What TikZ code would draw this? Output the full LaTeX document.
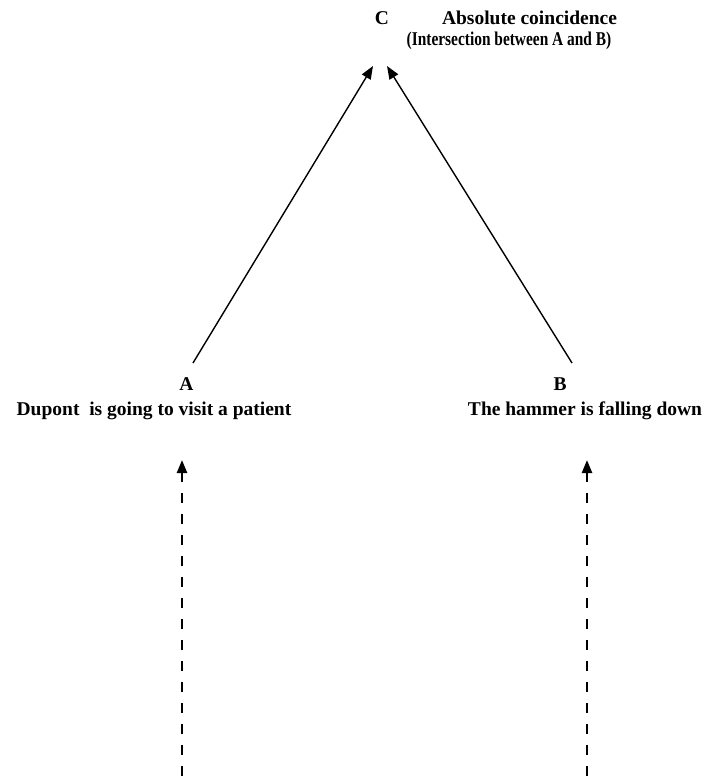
\documentclass[tikz,border=0pt]{standalone}
\usepackage{fontspec}
\setmainfont{Liberation Serif}
\usetikzlibrary{arrows.meta}
\begin{document}
\begin{tikzpicture}[x=1pt,y=-1pt,
  lbl/.style={inner sep=0pt,font=\fontsize{19.5}{22}\selectfont\bfseries,anchor=base},
  solidarrow/.style={line width=1.4pt,-{Triangle[length=13pt,width=10pt]}},
  dasharrow/.style={line width=2.4pt,dash pattern=on 10pt off 11pt,-{Triangle[length=13pt,width=10pt]}}]
\useasboundingbox (0,0) rectangle (705,778);
% top labels
\node[lbl] (C) at (382,25) {C};
\node[lbl] (Ctitle) at (529.5,25) {Absolute coincidence};
\node[lbl] (Csub) at (509,46) {\scalebox{0.79}[1]{(Intersection between A and B)}};
% bottom labels
\node[lbl] (A) at (186.5,390) {A};
\node[lbl] (Atext) at (154,415) {Dupont\ \ is going to visit a patient};
\node[lbl] (B) at (560,390) {B};
\node[lbl] (Btext) at (585,415) {The hammer is falling down};
% connector end points
\coordinate (aout) at (193,363);
\coordinate (bout) at (572,363);
\coordinate (cinl) at (373,66);
\coordinate (cinr) at (387,66);
\coordinate (ain) at (182,460);
\coordinate (bin) at (587,460);
\coordinate (asrc) at (182,776);
\coordinate (bsrc) at (587,776);
\draw[solidarrow] (aout) -- (cinl);
\draw[solidarrow] (bout) -- (cinr);
\draw[dasharrow] (asrc) -- (ain);
\draw[dasharrow] (bsrc) -- (bin);
\end{tikzpicture}
\end{document}
